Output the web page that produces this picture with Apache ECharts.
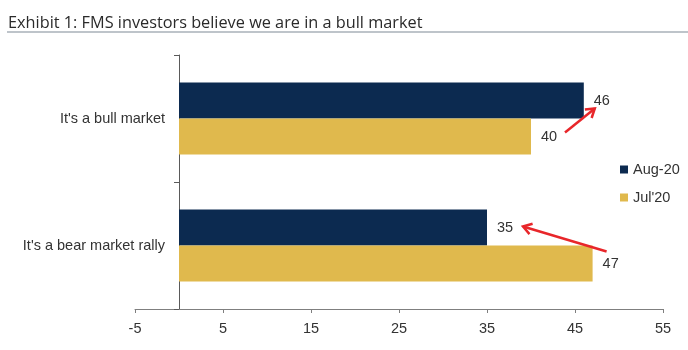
<!DOCTYPE html>
<html><head><meta charset="utf-8">
<script src="https://cdn.jsdelivr.net/npm/echarts@6/dist/echarts.min.js"></script>
<style>html,body{margin:0;padding:0;background:#fff}#c{width:688px;height:350px}</style>
</head><body><div id="c"></div>
<script>
const titleText = 'Exhibit 1: FMS investors believe we are in a bull market';
const categories = ["It's a bull market", "It's a bear market rally"];
const seriesNames = ['Aug-20', "Jul'20"];
const aug20 = [46, 35];
const jul20 = [40, 47];
const tickValues = [-5, 5, 15, 25, 35, 45, 55];

const NARROW = "'Liberation Sans Narrow', 'Arial Narrow', 'Liberation Sans', Arial, sans-serif";
const FS = 14.5;
const BAR_W = 36;
const C_AUG = '#0c2a50';
const C_JUL = '#e0b94d';
const TXT = '#333333';

const chart = echarts.init(document.getElementById('c'), null, {renderer: 'canvas'});

const labelCfg = {show: true, position: 'right', distance: 10, fontSize: FS, color: TXT, fontFamily: NARROW};

chart.setOption({
  animation: false,
  backgroundColor: '#fff',
  title: {
    text: titleText, left: 3, top: 10,
    textStyle: {fontFamily: "'Open Sans', sans-serif", fontSize: 16.3, fontWeight: 'normal', color: '#2a2a2a'}
  },
  grid: {left: 135, right: 25, top: 55, bottom: 41, containLabel: false, outerBoundsMode: 'none'},
  legend: {
    orient: 'vertical', left: 615, top: 157, itemWidth: 8, itemHeight: 8, itemGap: 13,
    icon: 'rect', data: seriesNames,
    textStyle: {fontSize: FS, color: TXT, fontFamily: NARROW}
  },
  xAxis: {
    type: 'value', min: -5, max: 55,
    splitLine: {show: false},
    axisLine: {show: true, lineStyle: {color: '#7f7f7f', width: 1}},
    axisTick: {show: true, customValues: tickValues, length: 4, lineStyle: {color: '#7f7f7f'}},
    axisLabel: {customValues: tickValues, margin: 12, fontSize: FS, color: TXT, fontFamily: NARROW}
  },
  yAxis: {
    type: 'category', data: categories, inverse: true,
    axisLine: {show: true, lineStyle: {color: '#5a5a5a', width: 1}},
    axisTick: {show: true, length: 5, lineStyle: {color: '#5a5a5a'}},
    axisLabel: {margin: -30, fontSize: FS, color: TXT, fontFamily: NARROW},
    splitLine: {show: false}
  },
  series: [
    {name: seriesNames[0], type: 'bar', data: aug20, barWidth: BAR_W, barGap: '0%',
     itemStyle: {color: C_AUG}, label: labelCfg},
    {name: seriesNames[1], type: 'bar', data: jul20, barWidth: BAR_W, barGap: '0%',
     itemStyle: {color: C_JUL}, label: labelCfg}
  ],
  graphic: []
});

// annotation arrows: from Jul'20 label toward Aug-20 label per category (offsets in px from bar end/center)
const arrowDefs = [
  {cat: 0, from: [34, -4], to: [11, 8]},
  {cat: 1, from: [14, -12], to: [36, -1]}
];
const ARROW = '#e8262a';
const graphics = [];
arrowDefs.forEach(a => {
  const pJul = chart.convertToPixel({gridIndex: 0}, [jul20[a.cat], a.cat]);
  const pAug = chart.convertToPixel({gridIndex: 0}, [aug20[a.cat], a.cat]);
  const julC = pJul[1] + BAR_W / 2, augC = pAug[1] - BAR_W / 2;
  const x1 = pJul[0] + a.from[0], y1 = julC + a.from[1];
  const x2 = pAug[0] + a.to[0], y2 = augC + a.to[1];
  const ang = Math.atan2(y2 - y1, x2 - x1);
  const L = 10, spread = Math.PI / 5.5;
  const h1 = [x2 - L * Math.cos(ang - spread), y2 - L * Math.sin(ang - spread)];
  const h2 = [x2 - L * Math.cos(ang + spread), y2 - L * Math.sin(ang + spread)];
  graphics.push({type: 'line', shape: {x1, y1, x2, y2}, style: {stroke: ARROW, lineWidth: 2.5}, z: 100});
  graphics.push({type: 'polyline', shape: {points: [h1, [x2, y2], h2]},
    style: {stroke: ARROW, lineWidth: 2.5, fill: null, lineJoin: 'miter'}, z: 100});
});
// title underline
graphics.push({type: 'line', shape: {x1: 7, y1: 32, x2: 688, y2: 32},
  style: {stroke: '#a9b1b8', lineWidth: 1.5}, z: 100});
chart.setOption({graphic: graphics});
</script>
</body></html>
